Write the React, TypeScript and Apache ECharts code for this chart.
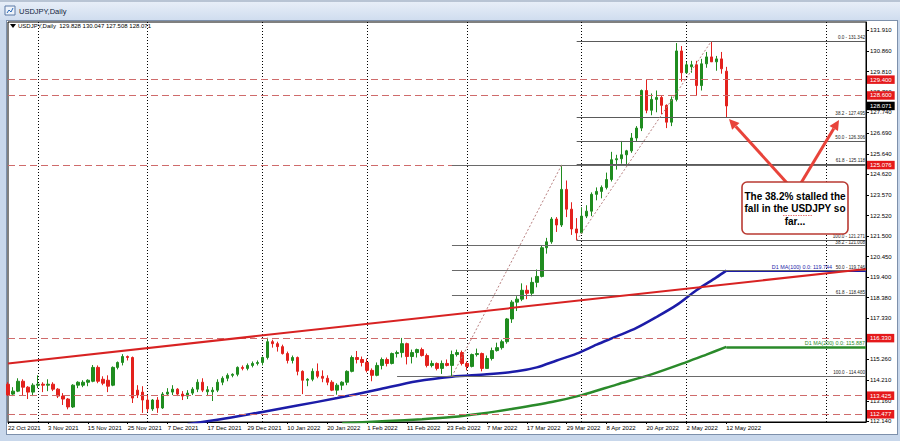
import React, { useEffect, useRef } from "react";
import * as echarts from "echarts";

const dates = [
  "22 Oct 2021","25 Oct 2021","26 Oct 2021","27 Oct 2021","28 Oct 2021","29 Oct 2021",
  "1 Nov 2021","2 Nov 2021","3 Nov 2021","4 Nov 2021","5 Nov 2021","8 Nov 2021","9 Nov 2021","10 Nov 2021","11 Nov 2021","12 Nov 2021",
  "15 Nov 2021","16 Nov 2021","17 Nov 2021","18 Nov 2021","19 Nov 2021","22 Nov 2021","23 Nov 2021","24 Nov 2021","25 Nov 2021","26 Nov 2021","29 Nov 2021","30 Nov 2021",
  "1 Dec 2021","2 Dec 2021","3 Dec 2021","6 Dec 2021","7 Dec 2021","8 Dec 2021","9 Dec 2021","10 Dec 2021","13 Dec 2021","14 Dec 2021","15 Dec 2021",
  "16 Dec 2021","17 Dec 2021","20 Dec 2021","21 Dec 2021","22 Dec 2021","23 Dec 2021","24 Dec 2021","27 Dec 2021","28 Dec 2021","29 Dec 2021","30 Dec 2021","31 Dec 2021",
  "3 Jan 2022","4 Jan 2022","5 Jan 2022","6 Jan 2022","7 Jan 2022","10 Jan 2022","11 Jan 2022","12 Jan 2022","13 Jan 2022","14 Jan 2022","17 Jan 2022",
  "18 Jan 2022","19 Jan 2022","20 Jan 2022","21 Jan 2022","24 Jan 2022","25 Jan 2022","26 Jan 2022","27 Jan 2022","28 Jan 2022","31 Jan 2022",
  "1 Feb 2022","2 Feb 2022","3 Feb 2022","4 Feb 2022","7 Feb 2022","8 Feb 2022","9 Feb 2022","10 Feb 2022","11 Feb 2022","14 Feb 2022",
  "15 Feb 2022","16 Feb 2022","17 Feb 2022","18 Feb 2022","21 Feb 2022","22 Feb 2022","23 Feb 2022","24 Feb 2022","25 Feb 2022","28 Feb 2022",
  "1 Mar 2022","2 Mar 2022","3 Mar 2022","4 Mar 2022","7 Mar 2022","8 Mar 2022","9 Mar 2022","10 Mar 2022","11 Mar 2022","14 Mar 2022","15 Mar 2022",
  "16 Mar 2022","17 Mar 2022","18 Mar 2022","21 Mar 2022","22 Mar 2022","23 Mar 2022","24 Mar 2022","25 Mar 2022","28 Mar 2022","29 Mar 2022","30 Mar 2022","31 Mar 2022",
  "1 Apr 2022","4 Apr 2022","5 Apr 2022","6 Apr 2022","7 Apr 2022","8 Apr 2022","11 Apr 2022","12 Apr 2022","13 Apr 2022","14 Apr 2022","15 Apr 2022",
  "18 Apr 2022","19 Apr 2022","20 Apr 2022","21 Apr 2022","22 Apr 2022","25 Apr 2022","26 Apr 2022","27 Apr 2022","28 Apr 2022","29 Apr 2022",
  "2 May 2022","3 May 2022","4 May 2022","5 May 2022","6 May 2022","9 May 2022","10 May 2022","11 May 2022","12 May 2022",
];

const opens = [
  114.00,113.50,113.65,114.15,113.85,113.60,113.95,114.00,113.95,114.00,
  113.75,113.40,113.25,112.85,113.95,113.95,114.10,114.15,114.85,114.25,
  114.20,113.95,114.85,115.10,115.40,115.35,113.70,113.60,113.20,112.75,
  113.20,112.80,113.50,113.60,113.75,113.50,113.40,113.55,113.75,114.10,
  113.62,113.62,113.70,114.10,114.30,114.45,114.50,114.85,114.80,114.95,
  115.05,115.10,115.35,116.15,116.05,115.90,115.55,115.20,115.35,114.65,
  114.20,114.25,114.65,114.40,114.30,114.10,113.70,113.95,114.10,114.65,
  115.35,115.25,115.10,114.70,114.45,114.95,115.25,115.05,115.55,115.60,
  116.05,115.40,115.60,115.75,115.45,114.95,115.05,114.80,115.05,114.95,
  115.50,115.60,115.05,114.90,115.50,115.55,114.80,115.30,115.70,115.85,
  116.15,117.30,118.15,118.30,118.75,118.60,119.15,119.45,120.90,121.20,
  122.35,122.05,123.85,122.85,121.85,121.65,122.50,122.75,123.60,123.75,
  123.95,124.35,125.35,125.40,125.60,125.80,126.45,126.95,128.85,127.85,
  128.40,128.50,128.10,127.25,128.40,130.85,129.75,130.05,130.15,129.10,
  130.20,130.55,130.30,130.45,129.828,
];
const highs = [
  114.10,113.85,114.30,114.25,113.90,114.05,114.45,114.10,114.25,114.10,
  113.80,113.55,113.30,114.00,114.15,114.20,114.25,114.97,114.95,114.40,
  114.45,114.90,115.15,115.52,115.45,115.40,113.95,113.90,113.45,113.25,
  113.35,113.60,113.80,113.95,113.80,113.65,113.70,113.85,114.25,114.30,
  113.90,113.85,114.25,114.40,114.55,114.55,114.90,114.95,115.05,115.15,
  115.20,115.40,116.35,116.25,116.15,116.00,115.65,115.45,115.40,114.70,
  114.30,114.80,115.05,114.70,114.45,114.20,114.05,114.15,114.70,115.45,
  115.68,115.40,115.30,114.80,115.10,115.35,115.35,115.60,115.70,116.34,
  116.10,115.75,115.80,115.85,115.55,115.20,115.10,115.20,115.25,115.70,
  115.75,115.70,115.15,115.55,115.80,115.60,115.45,115.85,116.10,116.25,
  117.35,118.25,118.45,119.10,119.00,119.40,119.80,121.00,121.40,122.45,
  122.45,125.09,124.30,123.20,122.40,122.95,123.05,123.70,123.95,124.05,
  124.70,125.75,125.60,126.30,125.85,126.70,127.05,128.90,129.40,128.70,
  128.85,128.60,128.15,128.55,131.25,131.10,130.30,130.35,130.35,130.45,
  130.80,131.342,130.60,130.80,130.047,
];
const lows = [
  113.41,113.40,113.60,113.45,113.25,113.40,113.80,113.60,113.65,113.65,
  113.30,112.95,112.73,112.80,113.80,113.85,113.90,114.10,114.05,113.95,
  113.60,113.90,114.75,114.95,115.20,113.05,113.30,112.55,112.60,112.65,
  112.55,112.75,113.40,113.45,113.40,113.20,113.25,113.45,113.60,113.60,
  113.40,113.15,113.60,113.95,114.15,114.35,114.40,114.70,114.70,114.85,
  114.95,114.95,115.25,115.85,115.65,115.50,115.05,115.05,114.45,113.50,
  113.90,114.15,114.30,114.10,113.95,113.65,113.47,113.70,113.95,114.60,
  115.05,114.90,114.60,114.15,114.40,114.75,114.90,115.00,115.35,115.35,
  115.00,115.05,115.35,115.40,114.85,114.85,114.70,114.52,114.90,114.40,
  115.40,114.95,114.70,114.85,115.40,114.65,114.80,115.20,115.65,115.75,
  116.05,117.10,117.70,118.20,118.30,118.45,118.90,119.40,120.60,121.10,
  121.70,121.95,122.45,121.55,121.28,121.60,122.40,122.50,123.30,123.40,
  123.85,124.25,124.85,125.15,125.10,125.70,126.30,126.80,127.70,127.60,
  127.75,127.65,126.95,127.05,128.30,129.30,129.70,129.75,128.60,128.85,
  130.00,130.40,129.85,129.70,127.508,
];
const closes = [
  113.46,113.65,114.15,113.85,113.60,113.95,114.00,113.95,114.00,113.75,
  113.40,113.25,112.85,113.95,114.10,114.10,114.20,114.85,114.15,114.05,
  113.90,114.85,115.10,115.40,115.35,113.30,113.45,113.20,112.75,113.20,
  112.80,113.50,113.60,113.75,113.50,113.40,113.55,113.75,114.10,113.70,
  113.72,113.70,114.10,114.30,114.45,114.50,114.85,114.80,114.95,115.05,
  115.10,115.35,116.15,116.05,115.90,115.55,115.20,115.35,114.65,114.20,
  114.25,114.65,114.40,114.30,114.10,113.70,113.95,114.10,114.65,115.35,
  115.25,115.10,114.70,114.45,114.95,115.25,115.05,115.55,115.60,116.05,
  115.40,115.60,115.75,115.45,114.95,115.05,114.80,115.05,114.95,115.50,
  115.60,115.05,114.90,115.50,115.55,114.80,115.30,115.70,115.85,116.15,
  117.30,118.15,118.30,118.75,118.60,119.15,119.45,120.90,121.20,122.35,
  122.05,123.85,122.85,121.85,121.65,122.50,122.75,123.60,123.75,123.95,
  124.35,125.35,125.40,125.60,125.80,126.45,126.95,128.85,127.85,128.40,
  128.50,128.10,127.25,128.40,130.85,129.75,130.15,130.15,129.10,130.20,
  130.55,130.30,130.45,129.95,128.071,
];

// Moving averages: [bar index, value]
const ma100Points = [
  [36,111.98],[42,112.20],[51,112.60],[58,112.92],[66,113.30],[74,113.72],[82,114.15],[89,114.38],
  [96,114.50],[102,114.65],[106,114.85],[110,115.20],[114,115.55],[118,116.00],[122,116.42],
  [126,116.85],[130,117.40],[134,118.00],[138,118.75],[142,119.40],[144,119.744],
];
const ma200Points = [
  [67,112.02],[76,112.14],[83,112.23],[89,112.34],[95,112.52],[101,112.75],[109,113.10],
  [115,113.45],[122,113.98],[129,114.50],[136,115.12],[140,115.50],[144,115.887],
];
const ma100Last = 119.744;
const ma200Last = 115.887;

const priceTicks = [131.91,130.86,129.81,128.76,127.74,126.69,125.64,124.62,123.57,122.52,121.5,120.45,119.4,118.38,117.33,116.28,115.26,114.21,113.16,112.14];
const redLevels = [129.4, 128.6, 125.076, 116.33, 113.425, 112.477];
const lastPrice = 128.071;

// Fibonacci retracements
const fibAStart = 114;
const fibALevels = ["0.0", "38.2", "50.0", "61.8", "100.0"];
const fibAValues = [131.342, 127.495, 126.306, 125.118, 121.271];
const fibAAnchors = [[114, 121.271], [141, 131.342]];
const fibBStart = 89;
const fibBLevels = ["0.0", "38.2", "50.0", "61.8", "100.0"];
const fibBValues = [125.092, 121.008, 119.746, 118.485, 114.4];
const fibBAnchors = [[89, 114.4], [111, 125.092]];
const fibB100Start = 78;

const trendLine = [[0, 115.05], [172, 119.83]];
const gridBarIdx = [6, 28, 51, 72, 92, 115, 136, 164];
const futureSlots = 28;

const FONT = "Liberation Sans, Arial, sans-serif";

export default function App() {
  const ref = useRef<HTMLDivElement>(null);
  useEffect(() => {
    if (!ref.current) return;
    const chart = echarts.init(ref.current, null, { renderer: "svg" });
    const N = dates.length;
    const categories = dates.concat(new Array(futureSlots).fill(""));
    const last = categories.length - 1;
    const candleData = opens.map((o, i) => [o, closes[i], lows[i], highs[i]]);
    const sparse = (pts: number[][]) => {
      const a: (number | null)[] = new Array(N).fill(null);
      pts.forEach(([i, v]) => (a[i] = v));
      return a;
    };
    const showLabel = (i: number) => i % 8 === 0 && i < N;

    const redLabel = (bg: string) => ({
      show: true,
      position: "end",
      distance: 1,
      backgroundColor: bg,
      color: "#fff",
      fontSize: 6,
      lineHeight: 6.5,
      fontFamily: FONT,
      padding: [1, 3, 1, 3],
    });

    const mlData: any[] = [];
    redLevels.forEach((v) => {
      mlData.push({
        yAxis: v,
        lineStyle: { color: "#cf6b6b", type: [7, 4], width: 1 },
        label: { ...redLabel("#e5191b"), formatter: v.toFixed(3) },
      });
    });
    mlData.push({
      yAxis: lastPrice,
      lineStyle: { color: "rgba(0,0,0,0)", width: 0 },
      label: { ...redLabel("#000"), formatter: lastPrice.toFixed(3) },
    });
    const fibLine = (start: number, v: number, txt: string | null, color: string) => [
      {
        coord: [start, v],
        lineStyle: { color, type: "solid", width: 1 },
        label: txt
          ? { show: true, position: "insideEndTop", formatter: txt, fontSize: 4.6, color: "#222", fontFamily: FONT, distance: 1 }
          : { show: false },
      },
      { coord: [last, v] },
    ];
    fibAValues.forEach((v, i) => {
      mlData.push(fibLine(fibAStart, v, `${fibALevels[i]} - ${v.toFixed(3)}`, "#5a5a5a"));
    });
    fibBValues.forEach((v, i) => {
      const start = fibBLevels[i] === "100.0" ? fibB100Start : fibBStart;
      mlData.push(fibLine(start, v, i === 0 ? null : `${fibBLevels[i]} - ${v.toFixed(3)}`, "#6a6a6a"));
    });
    [fibAAnchors, fibBAnchors].forEach((a) => {
      mlData.push([
        { coord: a[0], lineStyle: { color: "#b88080", type: [2, 2], width: 1 }, label: { show: false } },
        { coord: a[1] },
      ]);
    });
    mlData.push([
      { coord: trendLine[0], lineStyle: { color: "#d82222", type: "solid", width: 2 }, label: { show: false } },
      { coord: trendLine[1] },
    ]);

    const option: any = {
      animation: false,
      backgroundColor: "transparent",
      grid: {
        left: 8, top: 22, width: 858, height: 400,
        show: true, borderColor: "#000", borderWidth: 1, backgroundColor: "#fff",
      },
      xAxis: {
        type: "category",
        data: categories,
        boundaryGap: false,
        axisLine: { lineStyle: { color: "#000", width: 1 } },
        axisTick: { show: true, interval: showLabel, length: 2, lineStyle: { color: "#000" } },
        axisLabel: { interval: showLabel, align: "left", fontSize: 6, color: "#000", margin: 3, fontFamily: FONT },
        splitLine: {
          show: true,
          interval: (i: number) => gridBarIdx.includes(i),
          lineStyle: { color: "#000", type: [1, 2], width: 1 },
        },
      },
      yAxis: {
        type: "value",
        position: "right",
        min: 112.0894,
        max: 132.3145,
        axisLine: { show: true, lineStyle: { color: "#000" } },
        axisTick: { show: true, length: 3, customValues: priceTicks, lineStyle: { color: "#000" } },
        axisLabel: {
          customValues: priceTicks,
          formatter: (v: number) => v.toFixed(3),
          fontSize: 6, color: "#000", margin: 4, fontFamily: FONT,
        },
        splitLine: { show: false },
      },
      series: [
        {
          type: "line",
          data: sparse(ma200Points),
          connectNulls: true,
          smooth: 0.3,
          showSymbol: false,
          lineStyle: { color: "#2a8a2a", width: 2.5 },
          z: 1,
          markLine: {
            silent: true, symbol: ["none", "none"], animation: false,
            data: [[
              {
                coord: [N - 1, ma200Last],
                lineStyle: { color: "#2a8a2a", width: 2.5, type: "solid" },
                label: { show: true, position: "insideEndTop", formatter: `D1 MA(200) 0.0: ${ma200Last.toFixed(3)}`, fontSize: 5.4, color: "#2a8a2a", fontFamily: FONT, distance: 1 },
              },
              { coord: [last, ma200Last] },
            ]],
          },
        },
        {
          type: "line",
          data: sparse(ma100Points),
          connectNulls: true,
          smooth: 0.3,
          showSymbol: false,
          lineStyle: { color: "#1c1ca8", width: 2.5 },
          z: 1,
          markLine: {
            silent: true, symbol: ["none", "none"], animation: false,
            data: [[
              {
                coord: [N - 1, ma100Last],
                lineStyle: { color: "#1c1ca8", width: 2, type: "solid" },
                label: { show: true, position: "insideEndTop", formatter: `D1 MA(100) 0.0: ${ma100Last.toFixed(3)}`, fontSize: 5.4, color: "#1c1ca8", fontFamily: FONT, distance: 1, offset: [-33, 0] },
              },
              { coord: [last, ma100Last] },
            ]],
          },
        },
        {
          type: "candlestick",
          data: candleData,
          barWidth: 3,
          z: 3,
          itemStyle: {
            color: "#1f8c1f", color0: "#e3211d",
            borderColor: "#1f8c1f", borderColor0: "#e3211d", borderWidth: 1,
          },
          markLine: {
            silent: true,
            symbol: ["none", "none"],
            animation: false,
            data: mlData,
          },
        },
      ],
      graphic: [
        { type: "polygon", shape: { points: [[10, 24], [16, 24], [13, 28]] }, style: { fill: "#000" }, z: 50 },
        {
          type: "text", x: 18, y: 26, z: 50,
          style: { text: "USDJPY,Daily  129.828 130.047 127.508 128.071", font: `6px ${FONT}`, fill: "#000", verticalAlign: "middle" },
        },
        { type: "rect", shape: { x: 5, y: 6, width: 10, height: 9 }, style: { fill: "#eef3fa", stroke: "#5d7ba6", lineWidth: 1 }, z: 50 },
        { type: "polyline", shape: { points: [[7, 13], [9, 10], [11, 12], [13, 8]] }, style: { stroke: "#2a6ab8", lineWidth: 1, fill: null }, z: 51 },
        {
          type: "text", x: 19, y: 11, z: 50,
          style: { text: "USDJPY,Daily", font: `7.5px ${FONT}`, fill: "#13243c", verticalAlign: "middle" },
        },
        // arrows
        { type: "line", shape: { x1: 787, y1: 183, x2: 735.8, y2: 126.4 }, style: { stroke: "#e8433a", lineWidth: 3 }, z: 60 },
        { type: "polygon", shape: { points: [[729, 119], [739.5, 123.0], [732.1, 129.8]] }, style: { fill: "#e8433a" }, z: 60 },
        { type: "line", shape: { x1: 801, y1: 183, x2: 833.8, y2: 128.5 }, style: { stroke: "#e8433a", lineWidth: 3 }, z: 60 },
        { type: "polygon", shape: { points: [[839, 120], [838.0, 131.1], [829.5, 125.9]] }, style: { fill: "#e8433a" }, z: 60 },
        // annotation box
        {
          type: "rect", z: 61,
          shape: { x: 742, y: 182, width: 106, height: 52, r: 5 },
          style: { fill: "#fff", stroke: "#b93a32", lineWidth: 1.6 },
        },
        {
          type: "text", x: 795, y: 208.5, z: 62,
          style: {
            text: "The 38.2% stalled the\nfall in the USDJPY so\nfar...",
            font: `bold 10px ${FONT}`, fill: "#000", align: "center", verticalAlign: "middle", lineHeight: 12.5,
          },
        },
        { type: "line", shape: { x1: 783, y1: 215.5, x2: 813, y2: 215.5 }, style: { stroke: "#e05050", lineWidth: 0.8, lineDash: [1.5, 1] }, z: 62 },
      ],
    };
    chart.setOption(option);
    return () => chart.dispose();
  }, []);

  return (
    <div style={{ position: "fixed", left: 0, top: 0, width: 900, height: 441, background: "#c8d7eb", overflow: "hidden" }}>
      <div style={{ position: "absolute", left: 0, top: 0, width: 900, height: 20, background: "linear-gradient(#e7eef8, #d0ddef)", borderTop: "2px solid #b8c4d4", boxSizing: "border-box" }} />
      <div style={{ position: "absolute", left: 6, top: 20, width: 892, height: 415, background: "#fff", border: "1px solid #7d90ab", boxSizing: "border-box" }} />
      <div ref={ref} style={{ position: "absolute", left: 0, top: 0, width: 900, height: 441 }} />
    </div>
  );
}
